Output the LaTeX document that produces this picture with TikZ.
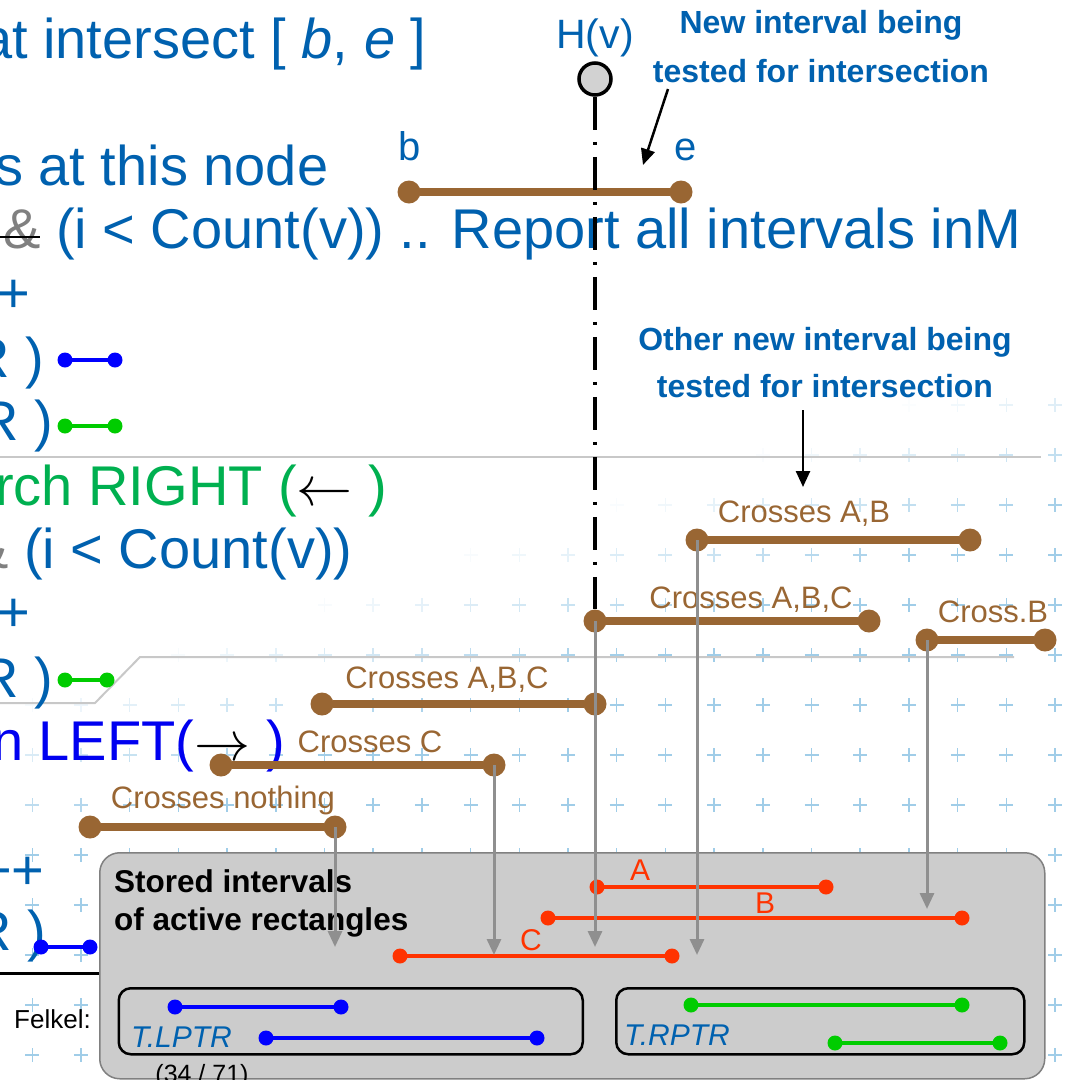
\documentclass[tikz,border=0pt]{standalone}
\usepackage{fix-cm}
\usepackage{fontspec}
\setmainfont{Liberation Sans}
\usetikzlibrary{arrows.meta}

\definecolor{codeblue}{RGB}{0,97,175}
\definecolor{leftblue}{RGB}{0,0,240}
\definecolor{rightgreen}{RGB}{0,176,80}
\definecolor{brn}{RGB}{153,102,51}
\definecolor{ivred}{RGB}{255,51,0}
\definecolor{dotblue}{RGB}{0,0,255}
\definecolor{dotgreen}{RGB}{0,204,0}
\definecolor{arrgray}{RGB}{143,143,143}
\definecolor{boxgray}{RGB}{204,204,204}
\definecolor{plusblue}{RGB}{160,205,232}
\definecolor{rulegray}{RGB}{200,200,200}

\begin{document}
\begin{tikzpicture}[x=1pt, y=-1pt,
    code/.style={anchor=base west, inner sep=0pt, text=codeblue, font=\fontsize{56}{60}\selectfont},
    note/.style={anchor=base, inner sep=0pt, text=codeblue, font=\fontsize{32}{38}\selectfont\bfseries},
    lbl/.style={anchor=base, inner sep=0pt, text=brn, font=\fontsize{31}{36}\selectfont},
    redlbl/.style={anchor=base, inner sep=0pt, text=ivred, font=\fontsize{30}{36}\selectfont},
    bdot/.style={circle, fill=brn, inner sep=0pt, minimum size=23pt},
    bline/.style={draw=brn, line width=8pt, line cap=round},
    sdot/.style={circle, fill=#1, inner sep=0pt, minimum size=15pt},
    sline/.style={draw=#1, line width=4pt, line cap=round},
    garrow/.style={draw=arrgray, line width=3pt, -{Triangle[width=14pt,length=16pt]}},
    karrow/.style={draw=black, line width=2.5pt, -{Triangle[width=14pt,length=16pt]}},
    plusmark/.style={draw=plusblue, line width=1.5pt},
    ptrbox/.style={draw=black, line width=2.5pt, rounded corners=12pt, inner sep=0pt},
    storebox/.style={draw=gray, fill=boxgray, line width=1.5pt, rounded corners=20pt, inner sep=0pt}
  ]
    % Crop of the slide
    \useasboundingbox (0,0) rectangle (1068,1080);
    \clip (0,0) rectangle (1068,1080);

    % Background crosses, fading to the top left
    \foreach \i in {0,...,21}{
      \foreach \j in {-6,...,7}{
        \pgfmathsetmacro\px{32.3+48.7*\i}
        \pgfmathsetmacro\py{705+50*\j}
        \pgfmathsetmacro\op{min(1,max(0,(\px+3*\py-2100)/500))}
        \draw[plusmark, opacity=\op] (\px-7,\py) -- (\px+7,\py) (\px,\py-7) -- (\px,\py+7);
      }
    }

    % Separator lines
    \draw[rulegray, line width=2.5pt] (0,457) -- (1041,457);
    \draw[rulegray, line width=2pt] (0,703) -- (95,703) -- (140,657) -- (1014,657);
    \draw[line width=3pt] (0,973) -- (120,973);

    % Pseudocode lines
    \node[code] (l1) at (-19,58) {at intersect [ \textit{b}, \textit{e} ]};
    \node[code] (l2) at (-5,185) {s at this node};
    \node[code] (l3) at (3,248) {\textcolor{gray}{\&} (i < Count(v)) .. Report all intervals inM};
    \draw[line width=2pt] (0,237) -- (40,237);
    \node[code] (l4) at (-3,312) {+};
    \node[code] (l5) at (-31,377) {R )};
    \node[code] (l6) at (-22,440) {R )};
    \node[code, text=rightgreen] (l7) at (-5,505) {rch RIGHT (\textcolor{black}{$\leftarrow$} )};
    \node[code] (l8) at (-29,568) {\textcolor{gray}{\&} (i < Count(v))};
    \node[code] (l9) at (-3,631) {+};
    \node[code] (l10) at (-22,697) {R )};
    \node[code, text=leftblue] (l11) at (-8,760) {n LEFT(\textcolor{black}{$\rightarrow$} )};
    \node[code] (l12) at (-21,889) {++};
    \node[code] (l13) at (-29,950) {R )};

    % Small intervals beside the code
    \node[sdot=dotblue] (lb1) at (65,360) {};
    \node[sdot=dotblue] (lb2) at (115,360) {};
    \draw[sline=dotblue] (lb1) -- (lb2);
    \node[sdot=dotgreen] (lg1) at (65,426) {};
    \node[sdot=dotgreen] (lg2) at (115,426) {};
    \draw[sline=dotgreen] (lg1) -- (lg2);
    \node[sdot=dotgreen] (lg3) at (65,680) {};
    \node[sdot=dotgreen] (lg4) at (107,680) {};
    \draw[sline=dotgreen] (lg3) -- (lg4);
    \node[sdot=dotblue] (lb3) at (41,947) {};
    \node[sdot=dotblue] (lb4) at (90,947) {};
    \draw[sline=dotblue] (lb3) -- (lb4);

    % Query interval [b,e]
    \node[anchor=base, inner sep=0pt, text=codeblue, font=\fontsize{40}{46}\selectfont] (blbl) at (410,160) {b};
    \node[anchor=base, inner sep=0pt, text=codeblue, font=\fontsize{40}{46}\selectfont] (elbl) at (686,160) {e};
    \node[bdot] (be1) at (409,192) {};
    \node[bdot] (be2) at (681,192) {};
    \draw[bline] (be1) -- (be2);

    % Tested intervals
    \node[lbl] (abl) at (804,522) {Crosses A,B};
    \node[bdot] (ab1) at (697,540) {};
    \node[bdot] (ab2) at (970,540) {};
    \draw[bline] (ab1) -- (ab2);
    \node[lbl] (abcl) at (751,608) {Crosses A,B,C};
    \node[bdot] (abc1) at (595,621) {};
    \node[bdot] (abc2) at (869,621) {};
    \draw[bline] (abc1) -- (abc2);
    \node[lbl] (cbl) at (993,622) {Cross.B};
    \node[bdot] (cb1) at (927,640) {};
    \node[bdot] (cb2) at (1045,640) {};
    \draw[bline] (cb1) -- (cb2);
    \node[lbl] (abdl) at (447,688) {Crosses A,B,C};
    \node[bdot] (abd1) at (322,704) {};
    \node[bdot] (abd2) at (595,704) {};
    \draw[bline] (abd1) -- (abd2);
    \node[lbl] (ccl) at (370,752) {Crosses C};
    \node[bdot] (cc1) at (221,765) {};
    \node[bdot] (cc2) at (494,765) {};
    \draw[bline] (cc1) -- (cc2);
    \node[lbl] (cnl) at (223,808) {Crosses nothing};
    \node[bdot] (cn1) at (90,827) {};
    \node[bdot] (cn2) at (335,827) {};
    \draw[bline] (cn1) -- (cn2);

    % Node H(v) and its line
    \node[anchor=base, inner sep=0pt, text=codeblue, font=\fontsize{41}{48}\selectfont] (hvlbl) at (595,48) {H(v)};
    \node[circle, draw=black, line width=3.5pt, fill=gray!35, minimum size=32pt, inner sep=0pt] (hv) at (595,79) {};
    \draw[line width=3.5pt, dash pattern=on 33pt off 12pt on 3pt off 12pt] (hv) -- (abc1);

    % Notes
    \node[note] (newtop) at (821,33) {New interval being};
    \node[note] (newbot) at (821,82) {tested for intersection};
    \coordinate (newtail) at (668,89);
    \coordinate (newtip) at (643,165);
    \draw[karrow] (newtail) -- (newtip);
    \node[note] (othtop) at (825,350) {Other new interval being};
    \node[note] (othbot) at (825,397) {tested for intersection};
    \coordinate (othtail) at (803,410);
    \coordinate (othtip) at (803,487);
    \draw[karrow] (othtail) -- (othtip);

    % Stored intervals
    \node[storebox, anchor=north west, minimum width=945pt, minimum height=226pt] (store) at (99,852) {};
    \node[anchor=base west, inner sep=0pt, font=\fontsize{31.5}{38}\selectfont\bfseries] (st1) at (114,892) {Stored intervals};
    \node[anchor=base west, inner sep=0pt, font=\fontsize{31.5}{38}\selectfont\bfseries] (st2) at (114,930) {of active rectangles};
    \node[redlbl] (alb) at (640,880) {A};
    \node[sdot=ivred] (ra1) at (597,887) {};
    \node[sdot=ivred] (ra2) at (826,887) {};
    \draw[sline=ivred] (ra1) -- (ra2);
    \node[redlbl] (blb) at (765,913) {B};
    \node[sdot=ivred] (rb1) at (548,918) {};
    \node[sdot=ivred] (rb2) at (962,918) {};
    \draw[sline=ivred] (rb1) -- (rb2);
    \node[redlbl] (clb) at (531,950) {C};
    \node[sdot=ivred] (rc1) at (400,956) {};
    \node[sdot=ivred] (rc2) at (672,956) {};
    \draw[sline=ivred] (rc1) -- (rc2);

    % Projections down to the stored intervals
    \coordinate (t1) at (335,947);
    \coordinate (t2) at (494,955);
    \coordinate (t3) at (595,947);
    \coordinate (t4) at (697,955);
    \coordinate (t5) at (927,909);
    \draw[garrow] (cn2.center) -- (t1);
    \draw[garrow] (cc2.center) -- (t2);
    \draw[garrow] (abc1.center) -- (t3);
    \draw[garrow] (ab1.center) -- (t4);
    \draw[garrow] (cb1.center) -- (t5);

    % Pointer trees
    \node[ptrbox, anchor=north west, minimum width=464pt, minimum height=66pt] (lptr) at (117.5,987) {};
    \node[ptrbox, anchor=north west, minimum width=408pt, minimum height=66pt] (rptr) at (615,987) {};
    \node[sdot=dotblue] (lp1) at (175,1007) {};
    \node[sdot=dotblue] (lp2) at (341,1007) {};
    \draw[sline=dotblue] (lp1) -- (lp2);
    \node[sdot=dotblue] (lp3) at (266,1038) {};
    \node[sdot=dotblue] (lp4) at (537,1038) {};
    \draw[sline=dotblue] (lp3) -- (lp4);
    \node[sdot=dotgreen] (rp1) at (691,1005) {};
    \node[sdot=dotgreen] (rp2) at (962,1005) {};
    \draw[sline=dotgreen] (rp1) -- (rp2);
    \node[sdot=dotgreen] (rp3) at (835,1043) {};
    \node[sdot=dotgreen] (rp4) at (1000,1043) {};
    \draw[sline=dotgreen] (rp3) -- (rp4);
    \node[anchor=base west, inner sep=0pt, text=codeblue, font=\fontsize{30}{36}\selectfont\itshape] (lptrlbl) at (131,1047) {T.LPTR};
    \node[anchor=base west, inner sep=0pt, text=codeblue, font=\fontsize{30}{36}\selectfont\itshape] (rptrlbl) at (624,1045) {T.RPTR};

    % Footer
    \node[anchor=base west, inner sep=0pt, font=\fontsize{26}{30}\selectfont] (felkel) at (14,1028) {Felkel:};
    \node[anchor=base, inner sep=0pt, font=\fontsize{25}{30}\selectfont] (page) at (202,1082) {(34 / 71)};
\end{tikzpicture}
\end{document}
